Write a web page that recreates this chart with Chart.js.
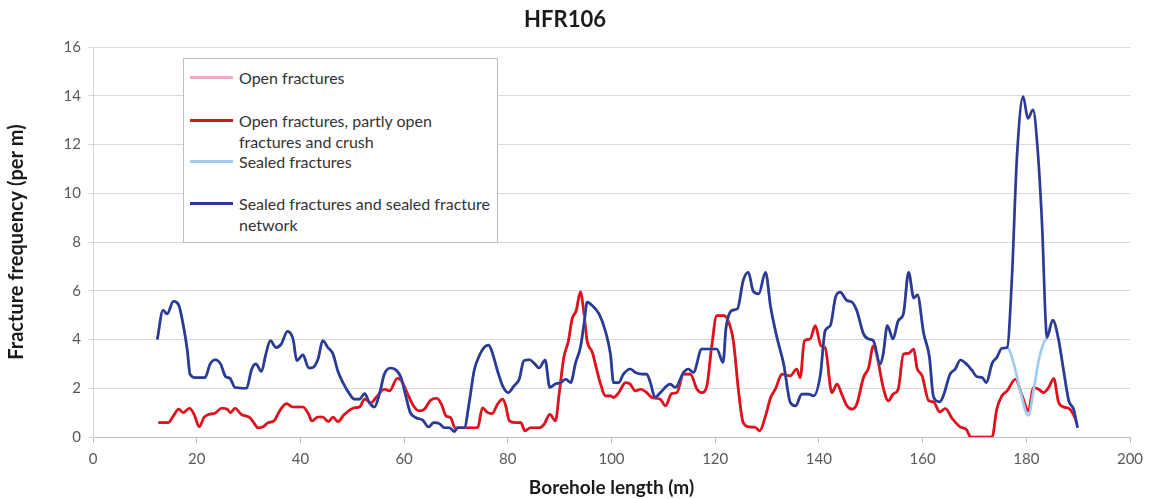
<!DOCTYPE html>
<html>
<head>
<meta charset="utf-8">
<title>HFR106</title>
<script src="https://cdn.jsdelivr.net/npm/chart.js@4.4.1/dist/chart.umd.min.js"></script>
<style>
  html, body { margin: 0; padding: 0; background: #fff; }
  #wrap { position: relative; width: 1154px; height: 499px; }
  #legend {
    position: absolute; left: 183px; top: 58px; width: 313px; height: 183px;
    border: 1px solid #bfbfbf; background: #fff;
    font-family: Lato, "Open Sans", sans-serif; font-size: 16px; color: #333;
  }
  .item { position: absolute; left: 55px; line-height: 21px; white-space: nowrap; }
  .swatch { position: absolute; left: -49px; top: 9px; width: 43px; height: 3px; }
</style>
</head>
<body>
<div id="wrap">
  <canvas id="fracChart" width="1154" height="499"></canvas>
  <div id="legend"></div>
</div>
<script>
//----------------------
// Data
//----------------------

const xTicks = [0, 20, 40, 60, 80, 100, 120, 140, 160, 180, 200];
const yTicks = [0, 2, 4, 6, 8, 10, 12, 14, 16];

// open fractures, partly open fractures and crush (red)
const crushX = [
  12.6, 14.5, 15.5, 16.5, 17.4, 18.6, 19.5, 20.5, 21.4, 22.4,
  23.5, 24.8, 25.9, 26.5, 27.4, 28.6, 30.2, 31.0, 31.8, 32.8,
  33.8, 34.9, 36.0, 37.3, 38.5, 40.5, 41.6, 42.2, 43.4, 44.3,
  45.4, 46.3, 47.2, 48.5, 50.4, 51.4, 52.4, 53.6, 54.6, 56.2,
  57.2, 58.7, 59.7, 60.7, 61.8, 62.9, 63.9, 65.1, 66.3, 67.2,
  68.1, 69.0, 69.8, 74.2, 75.1, 76.1, 77.0, 78.0, 79.0, 79.6,
  80.3, 81.5, 82.5, 83.3, 84.4, 86.0, 87.0, 88.1, 89.2, 89.9,
  90.8, 91.7, 92.4, 93.2, 94.0, 94.7, 95.3, 96.3, 97.2, 97.9,
  98.8, 99.8, 100.4, 101.4, 102.7, 103.6, 104.6, 105.6, 106.8, 107.8,
  109.4, 110.4, 111.6, 112.6, 113.9, 115.2, 116.5, 117.4, 118.4, 119.3,
  120.3, 121.6, 122.5, 123.5, 124.5, 125.4, 126.7, 127.7, 128.6, 129.7,
  130.7, 131.6, 132.9, 134.5, 135.7, 136.4, 137.2, 138.3, 139.3, 140.4,
  141.2, 142.5, 143.5, 144.4, 145.4, 146.4, 147.3, 148.6, 149.6, 150.5,
  151.2, 152.4, 153.4, 154.3, 155.3, 156.3, 157.3, 158.3, 158.9, 159.9,
  161.2, 162.1, 163.3, 164.4, 165.7, 167.3, 168.4, 169.3, 173.4, 174.3,
  175.3, 176.3, 177.9, 179.2, 180.4, 181.4, 182.4, 183.3, 184.3, 185.3,
  186.2, 187.2, 188.2, 189.0, 189.8
];
const crushY = [
  0.59, 0.59, 0.86, 1.14, 1.0, 1.18, 0.93, 0.42, 0.8, 0.93,
  0.97, 1.18, 1.14, 1.0, 1.18, 0.93, 0.8, 0.59, 0.38, 0.42,
  0.59, 0.66, 1.07, 1.37, 1.23, 1.23, 0.93, 0.66, 0.82, 0.82,
  0.63, 0.82, 0.63, 0.93, 1.2, 1.23, 1.55, 1.41, 1.62, 1.96,
  1.89, 2.41, 2.23, 1.76, 1.28, 1.07, 1.14, 1.51, 1.59, 1.34,
  0.86, 0.79, 0.38, 0.38, 1.2, 1.0, 0.96, 1.34, 1.55, 1.28,
  0.66, 0.59, 0.59, 0.25, 0.38, 0.38, 0.52, 0.93, 0.66, 1.76,
  3.26, 3.95, 4.84, 5.19, 5.95, 5.05, 3.95, 3.47, 2.72, 2.17,
  1.69, 1.69, 1.62, 1.82, 2.23, 2.17, 1.89, 1.96, 1.82, 1.62,
  1.55, 1.28, 1.78, 1.82, 2.58, 2.58, 1.96, 1.82, 2.1, 3.67,
  4.98, 4.98, 4.77, 3.95, 1.89, 0.59, 0.41, 0.4, 0.25, 0.86,
  1.62, 1.96, 2.58, 2.51, 2.79, 2.44, 3.95, 4.02, 4.57, 3.74,
  3.67, 1.82, 2.17, 1.76, 1.28, 1.14, 1.34, 2.44, 2.85, 3.74,
  3.33, 2.03, 1.48, 1.76, 1.96, 3.4, 3.43, 3.61, 2.85, 2.51,
  1.48, 1.44, 1.03, 1.17, 0.76, 0.41, 0.32, 0.0, 0.0, 1.14,
  1.69, 1.89, 2.37, 1.69, 1.07, 2.03, 1.96, 1.82, 2.03, 2.4,
  1.44, 1.23, 1.17, 0.96, 0.55
];

// sealed fractures and sealed fracture network (dark blue)
const networkX = [
  12.4, 13.5, 14.3, 15.5, 16.5, 17.4, 18.2, 18.7, 19.7, 21.6,
  22.6, 23.6, 24.6, 25.6, 26.4, 27.4, 29.6, 30.6, 31.4, 32.5,
  33.3, 34.2, 35.3, 36.3, 37.5, 38.6, 39.3, 40.5, 41.6, 42.4,
  43.4, 44.3, 45.3, 46.3, 47.2, 48.2, 49.5, 50.4, 51.4, 52.4,
  53.3, 54.3, 55.3, 56.2, 57.4, 58.5, 59.4, 60.4, 61.2, 62.3,
  63.6, 64.7, 65.7, 66.8, 67.8, 68.7, 69.7, 70.3, 71.6, 72.6,
  73.5, 74.5, 75.4, 76.3, 77.0, 78.0, 79.0, 80.1, 81.2, 82.2,
  83.1, 84.2, 85.2, 86.0, 87.2, 88.1, 89.1, 90.2, 91.2, 92.1,
  93.1, 94.0, 94.7, 95.3, 96.3, 97.6, 98.8, 99.8, 100.4, 101.4,
  102.3, 103.6, 104.6, 105.9, 106.8, 107.5, 108.4, 109.4, 111.3, 112.3,
  113.9, 114.8, 115.8, 117.4, 120.3, 121.5, 122.1, 123.2, 124.3, 125.4,
  126.4, 127.3, 128.4, 129.7, 130.7, 131.9, 133.2, 134.5, 135.5, 136.7,
  138.0, 139.0, 140.3, 141.2, 142.2, 143.2, 144.1, 145.4, 146.4, 147.3,
  148.6, 149.6, 150.5, 151.8, 152.4, 153.2, 154.3, 155.3, 156.3, 157.3,
  158.3, 159.0, 160.2, 161.3, 162.1, 163.3, 164.0, 165.3, 166.3, 167.3,
  168.6, 169.5, 170.5, 171.5, 172.3, 173.4, 174.3, 175.3, 176.3, 177.2,
  178.2, 179.4, 180.3, 181.3, 182.2, 183.0, 184.0, 185.1, 186.2, 187.2,
  188.2, 189.1, 189.9
];
const networkY = [
  4.0, 5.2, 5.05, 5.57, 5.43, 4.6, 3.54, 2.58, 2.44, 2.44,
  3.0, 3.17, 3.0, 2.47, 2.41, 2.03, 2.0, 2.78, 3.0, 2.69,
  3.37, 3.95, 3.67, 3.81, 4.33, 4.0, 3.13, 3.37, 2.83, 2.85,
  3.2, 3.95, 3.67, 3.4, 2.72, 2.23, 1.76, 1.55, 1.55, 1.78,
  1.41, 1.23, 1.82, 2.58, 2.83, 2.74, 2.44, 1.62, 1.0, 0.79,
  0.69, 0.41, 0.59, 0.55, 0.38, 0.38, 0.22, 0.38, 0.38, 1.48,
  2.72, 3.33, 3.67, 3.77, 3.47, 2.72, 2.1, 1.82, 2.1, 2.37,
  3.13, 3.17, 3.0, 2.83, 3.15, 2.03, 2.17, 2.23, 2.37, 2.23,
  3.06, 3.67, 4.64, 5.53, 5.39, 5.05, 4.36, 3.4, 2.23, 2.23,
  2.58, 2.79, 2.65, 2.58, 2.58, 2.23, 1.62, 1.82, 2.17, 2.03,
  2.65, 2.79, 2.65, 3.61, 3.61, 3.06, 4.5, 5.19, 5.26, 6.42,
  6.76, 6.0, 5.87, 6.76, 5.32, 4.09, 3.0, 1.41, 1.28, 1.76,
  1.76, 1.69, 2.58, 4.36, 4.57, 5.73, 5.94, 5.6, 5.53, 5.19,
  4.23, 4.02, 3.95, 3.0, 3.4, 4.57, 4.02, 4.77, 5.05, 6.76,
  5.7, 5.83, 4.26, 3.3, 1.65, 1.44, 1.69, 2.58, 2.79, 3.16,
  2.96, 2.74, 2.47, 2.44, 2.23, 3.02, 3.26, 3.64, 3.67, 6.42,
  11.5, 13.96, 13.07, 13.42, 11.77, 8.9, 4.09, 4.8, 4.02, 2.72,
  1.48, 1.14, 0.38
];

// sealed fractures only: follows the network curve except for the dip near 180 m (light blue)
const sealedDipX = [177.6, 178.8, 180.4, 181.4, 182.4, 183.3];
const sealedDipY = [3.0, 1.92, 0.89, 1.92, 3.15, 3.84];

//----------------------
// Build points
//----------------------

function toPoints(xs, ys) {
  return xs.map((x, i) => ({ x: x, y: ys[i] }));
}

const crushPts = toPoints(crushX, crushY);
const networkPts = toPoints(networkX, networkY);
const sealedPts = networkPts.filter(p => p.x <= 176.3)
  .concat(toPoints(sealedDipX, sealedDipY))
  .concat(networkPts.filter(p => p.x >= 184.0));
const openPts = crushPts.slice(); // open fractures lie under the red curve

const series = [
  { label: 'Open fractures', lines: ['Open fractures'], color: '#f4a7c4', pts: openPts, order: 3 },
  { label: 'Open fractures, partly open fractures and crush', lines: ['Open fractures, partly open', 'fractures and crush'], color: '#df121b', pts: crushPts, order: 2 },
  { label: 'Sealed fractures', lines: ['Sealed fractures'], color: '#9fcbee', pts: sealedPts, order: 1 },
  { label: 'Sealed fractures and sealed fracture network', lines: ['Sealed fractures and sealed fracture', 'network'], color: '#2d3a95', pts: networkPts, order: 0 }
];

//----------------------
// Legend box
//----------------------

const legend = document.getElementById('legend');
const itemTops = [7.5, 50.5, 91.5, 133.5];
series.forEach((s, i) => {
  const item = document.createElement('div');
  item.className = 'item';
  item.style.top = itemTops[i] + 'px';
  item.innerHTML = '<span class="swatch" style="background:' + s.color + '"></span>' + s.lines.join('<br>');
  legend.appendChild(item);
});

//----------------------
// Chart
//----------------------

const fontFamily = 'Lato, "Open Sans", sans-serif';
const ctx = document.getElementById('fracChart').getContext('2d');
const chart = new Chart(ctx, {
  type: 'line',
  data: {
    datasets: series.map(s => ({
      label: s.label,
      data: s.pts,
      borderColor: s.color,
      backgroundColor: s.color,
      borderWidth: 2.7,
      pointRadius: 0,
      cubicInterpolationMode: 'monotone',
      order: s.order
    }))
  },
  options: {
    responsive: false,
    animation: false,
    layout: { padding: { left: 0, right: 24, top: 0, bottom: 0 } },
    plugins: {
      legend: { display: false },
      tooltip: { enabled: false },
      title: {
        display: true,
        text: 'HFR106',
        color: '#1a1a1a',
        font: { family: fontFamily, size: 22, weight: 'bold' },
        padding: { top: 7, bottom: 13.6 }
      }
    },
    scales: {
      x: {
        type: 'linear',
        min: xTicks[0],
        max: xTicks[xTicks.length - 1],
        afterBuildTicks: (scale) => { scale.ticks = xTicks.map(v => ({ value: v })); },
        afterFit: (scale) => { scale.height = 62; },
        grid: { drawOnChartArea: false, drawTicks: true, tickLength: 6, color: '#bfbfbf' },
        border: { color: '#bfbfbf' },
        ticks: { color: '#595959', padding: 7, font: { family: fontFamily, size: 15 } },
        title: {
          display: true,
          text: 'Borehole length (m)',
          color: '#1a1a1a',
          font: { family: fontFamily, size: 19, weight: 'bold' },
          padding: { top: 0, bottom: 0 }
        }
      },
      y: {
        min: yTicks[0],
        max: yTicks[yTicks.length - 1],
        afterBuildTicks: (scale) => { scale.ticks = yTicks.map(v => ({ value: v })); },
        afterFit: (scale) => { scale.width = 93; },
        grid: { color: '#d9d9d9', tickLength: 5 },
        border: { color: '#d9d9d9' },
        ticks: { color: '#595959', padding: 7, font: { family: fontFamily, size: 15 } },
        title: {
          display: true,
          text: 'Fracture frequency (per m)',
          color: '#1a1a1a',
          font: { family: fontFamily, size: 20, weight: 'bold' },
          padding: { top: 5, bottom: 0 }
        }
      }
    }
  }
});
</script>
</body>
</html>
